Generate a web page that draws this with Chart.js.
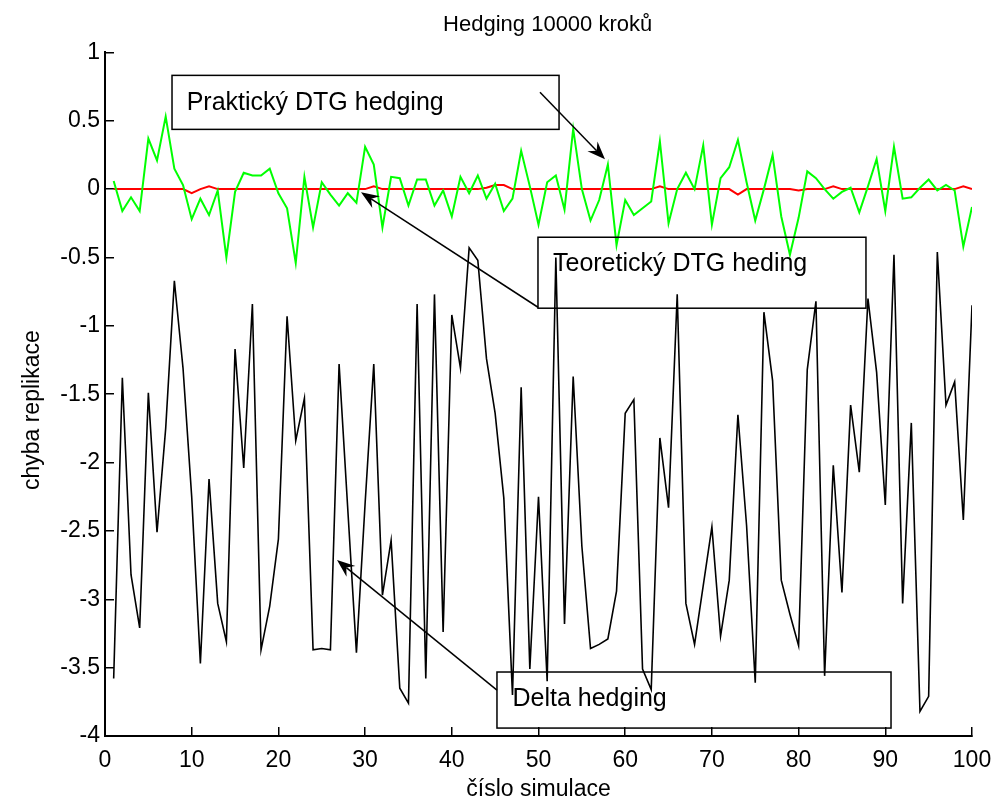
<!DOCTYPE html>
<html>
<head>
<meta charset="utf-8">
<title>Hedging 10000 kroků</title>
<script src="https://cdn.jsdelivr.net/npm/chart.js@4.4.1/dist/chart.umd.min.js"></script>
<style>
  html, body { margin: 0; padding: 0; background: #fff; }
  #wrap { width: 998px; height: 807px; }
</style>
</head>
<body>
<div id="wrap"><canvas id="hedge-chart" width="998" height="807"></canvas></div>
<script>
// chyba replikace pro 100 simulaci
const deltaHedging = [
  -3.58, -1.38, -2.82, -3.21, -1.49, -2.51, -1.75, -0.67, -1.31, -2.25,
  -3.47, -2.12, -3.03, -3.31, -1.17, -2.04, -0.84, -3.37, -3.05, -2.56,
  -0.93, -1.84, -1.53, -3.37, -3.36, -3.37, -1.28, -2.34, -3.39, -2.30,
  -1.28, -2.97, -2.57, -3.65, -3.76, -0.84, -3.58, -0.77, -3.24, -0.92,
  -1.31, -0.43, -0.52, -1.24, -1.64, -2.26, -3.70, -1.45, -3.51, -2.25,
  -3.60, -0.50, -3.18, -1.37, -2.61, -3.36, -3.33, -3.29, -2.94, -1.64,
  -1.54, -3.51, -3.66, -1.82, -2.33, -0.77, -3.03, -3.33, -2.90, -2.47,
  -3.27, -2.86, -1.65, -2.46, -3.61, -0.90, -1.40, -2.86, -3.11, -3.34,
  -1.32, -0.82, -3.56, -2.02, -2.95, -1.58, -2.07, -0.80, -1.34, -2.31,
  -0.48, -3.03, -1.71, -3.82, -3.71, -0.46, -1.58, -1.41, -2.42, -0.85
];

const prakticky = [
   0.06, -0.16, -0.06, -0.16,  0.37,  0.21,  0.53,  0.15,  0.03, -0.22,
  -0.07, -0.19, -0.01, -0.50, -0.02,  0.12,  0.10,  0.10,  0.15, -0.03,
  -0.14, -0.54,  0.09, -0.28,  0.05, -0.04, -0.12, -0.03, -0.10,  0.31,
   0.18, -0.28,  0.09,  0.08, -0.12,  0.07,  0.07, -0.12, -0.01, -0.20,
   0.09, -0.03,  0.10, -0.07,  0.04, -0.16, -0.07,  0.28,  0.02, -0.26,
   0.05,  0.10, -0.15,  0.44,  0.00, -0.23, -0.08,  0.18, -0.41, -0.08,
  -0.19, -0.14, -0.09,  0.35, -0.25,  0.00,  0.12,  0.00,  0.32, -0.26,
   0.08,  0.16,  0.36,  0.05, -0.23,  0.00,  0.25, -0.20, -0.48, -0.21,
   0.13,  0.08,  0.00, -0.07, -0.02,  0.01, -0.17,  0.02,  0.22, -0.16,
   0.31, -0.07, -0.06,  0.01,  0.07, -0.01,  0.03, -0.01, -0.42, -0.13
];

const teoreticky = [
   0.00,  0.00,  0.00,  0.00,  0.00,  0.00,  0.00,  0.00,  0.00, -0.03,
   0.00,  0.02,  0.00,  0.00,  0.00,  0.00,  0.00,  0.00,  0.00,  0.00,
   0.00,  0.00,  0.00,  0.00,  0.00,  0.00,  0.00,  0.00,  0.00,  0.00,
   0.02,  0.00,  0.00,  0.00,  0.00,  0.00,  0.00,  0.00,  0.00,  0.00,
   0.00,  0.00,  0.00,  0.01,  0.03,  0.03,  0.00,  0.00,  0.00,  0.00,
   0.00,  0.00,  0.00,  0.00,  0.00,  0.00,  0.00,  0.00,  0.00,  0.00,
   0.00,  0.00,  0.00,  0.02,  0.00,  0.00,  0.00,  0.00,  0.00,  0.00,
   0.00,  0.00, -0.04,  0.00,  0.00,  0.00,  0.00,  0.00,  0.00, -0.01,
   0.00,  0.00,  0.00,  0.02,  0.00,  0.00,  0.00,  0.00,  0.00,  0.00,
   0.00,  0.00,  0.00,  0.00,  0.00,  0.00,  0.00,  0.00,  0.02,  0.00
];

// popisky (textove ramecky se sipkami), souradnice v jednotkach os
const popisky = [
  { text: 'Praktický DTG hedging', box: [7.73, 52.37, 0.832, 0.437], at: [9.42, 0.581], from: [50.17, 0.708], to: [57.67, 0.218] },
  { text: 'Teoretický DTG heding', box: [49.94, 87.77, -0.352, -0.871], at: [51.67, -0.601], from: [49.94, -0.864], to: [29.53, -0.023] },
  { text: 'Delta hedging', box: [45.21, 90.66, -3.532, -3.942], at: [47.0, -3.781], from: [45.21, -3.664], to: [26.76, -2.713] }
];

const FONT = '"Liberation Sans", Arial, Helvetica, sans-serif';
Chart.defaults.font.family = FONT;
Chart.defaults.color = '#000';

function toPoints(values) {
  return values.map((v, i) => ({ x: i + 1, y: v }));
}

function drawArrow(ctx, x1, y1, x2, y2) {
  const ang = Math.atan2(y2 - y1, x2 - x1);
  const len = 18, half = 7, notch = 12;
  const cx = Math.cos(ang), cy = Math.sin(ang);
  ctx.beginPath();
  ctx.moveTo(x1, y1);
  ctx.lineTo(x2 - cx * notch, y2 - cy * notch);
  ctx.stroke();
  const bx = x2 - cx * len, by = y2 - cy * len;
  ctx.beginPath();
  ctx.moveTo(x2, y2);
  ctx.lineTo(bx - cy * half, by + cx * half);
  ctx.lineTo(x2 - cx * notch, y2 - cy * notch);
  ctx.lineTo(bx + cy * half, by - cx * half);
  ctx.closePath();
  ctx.fill();
}

const popiskyPlugin = {
  id: 'popisky',
  afterDatasetsDraw(chart) {
    const { ctx, scales: { x, y } } = chart;
    ctx.save();
    ctx.strokeStyle = '#000';
    ctx.fillStyle = '#000';
    ctx.lineWidth = 1.5;
    for (const p of popisky) {
      const x1 = x.getPixelForValue(p.box[0]);
      const x2 = x.getPixelForValue(p.box[1]);
      const y1 = y.getPixelForValue(p.box[2]);
      const y2 = y.getPixelForValue(p.box[3]);
      ctx.strokeRect(x1, y1, x2 - x1, y2 - y1);

      ctx.font = '25px ' + FONT;
      ctx.textBaseline = 'alphabetic';
      ctx.textAlign = 'left';
      ctx.fillText(p.text, x.getPixelForValue(p.at[0]), y.getPixelForValue(p.at[1]));

      drawArrow(ctx,
        x.getPixelForValue(p.from[0]), y.getPixelForValue(p.from[1]),
        x.getPixelForValue(p.to[0]), y.getPixelForValue(p.to[1]));
    }
    ctx.restore();
  }
};

const lineStyle = { pointRadius: 0, fill: false, tension: 0 };

new Chart(document.getElementById('hedge-chart'), {
  type: 'line',
  data: {
    datasets: [
      { label: 'Delta hedging', data: toPoints(deltaHedging), borderColor: '#000000', borderWidth: 1.6, ...lineStyle },
      { label: 'Praktický DTG hedging', data: toPoints(prakticky), borderColor: '#00ff00', borderWidth: 2, ...lineStyle },
      { label: 'Teoretický DTG heding', data: toPoints(teoreticky), borderColor: '#ff0000', borderWidth: 2, ...lineStyle }
    ]
  },
  options: {
    responsive: false,
    animation: false,
    devicePixelRatio: 1,
    layout: { padding: { left: 0, right: 26, top: 0, bottom: 0 } },
    plugins: {
      legend: { display: false },
      tooltip: { enabled: false },
      title: {
        display: true,
        text: '   Hedging 10000 kroků',
        fullSize: false,
        font: { size: 22, weight: 'normal' },
        padding: { top: 12, bottom: 14 }
      }
    },
    scales: {
      x: {
        type: 'linear',
        min: 0,
        max: 100,
        ticks: { stepSize: 10, font: { size: 23 }, padding: 20, maxRotation: 0, autoSkip: false },
        grid: { drawOnChartArea: false, drawTicks: true, tickLength: -9, color: '#000', lineWidth: 1.5 },
        border: { display: true, color: '#000', width: 2 },
        title: { display: true, text: 'číslo simulace', font: { size: 23 }, padding: { top: 0, bottom: 4 } },
        afterFit: (scale) => {
          scale.height = 71;
          scale.paddingRight = 0;
          scale.paddingLeft = 0;
        }
      },
      y: {
        type: 'linear',
        min: -4,
        max: 1,
        ticks: { stepSize: 0.5, font: { size: 23 }, padding: 14, callback: (v) => String(v) },
        grid: { drawOnChartArea: false, drawTicks: true, tickLength: -9, color: '#000', lineWidth: 1.5 },
        border: { display: true, color: '#000', width: 2 },
        title: { display: true, text: 'chyba replikace     ', font: { size: 23 }, padding: { top: 19, bottom: 0 } },
        afterFit: (scale) => { scale.width = 105; }
      }
    }
  },
  plugins: [popiskyPlugin]
});
</script>
</body>
</html>
